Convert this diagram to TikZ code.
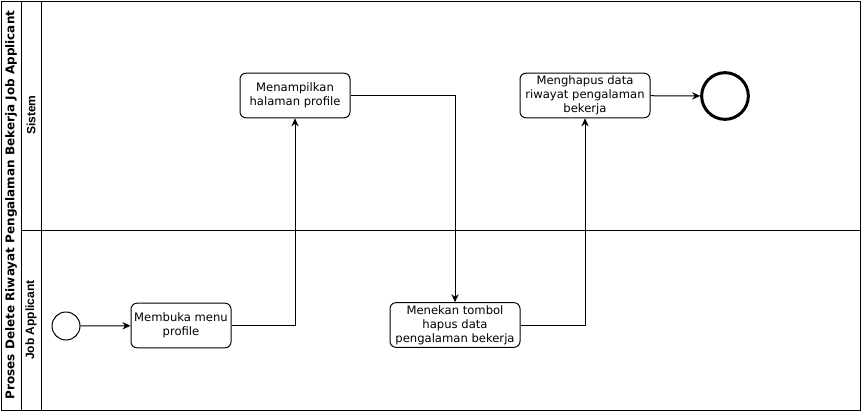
\documentclass[tikz,border=0pt]{standalone}
\usepackage{fontspec}
\setmainfont{DejaVu Sans}
\newfontfamily\lanefont{Liberation Sans}
\usetikzlibrary{arrows.meta}
\begin{document}
\begin{tikzpicture}[
 x=.75pt,y=-.75pt,
 line/.style={line width=.75pt},
 flow/.style={line width=.75pt,-{Stealth[length=6pt,width=5.5pt]}},
 task/.style={draw,line width=.75pt,rounded corners=4.5pt,align=center,
  minimum height=33.5pt,inner sep=1pt,font=\fontsize{8.7}{10.6}\selectfont},
 startev/.style={draw,circle,line width=.75pt,minimum size=21pt,inner sep=0pt},
 endev/.style={draw,circle,line width=2.25pt,minimum size=35pt,inner sep=0pt},
 lane/.style={rotate=90,font=\lanefont\bfseries\fontsize{9}{11}\selectfont}]
 \useasboundingbox (0,0) rectangle (861,411);
 % Pool and lanes.
 \draw[line] (1,1) rectangle (860,410);
 \draw[line] (21,1)--(21,410) (41,1)--(41,410) (21,230)--(860,230);
 \node[rotate=90,font=\bfseries\fontsize{9}{11}\selectfont] (pool) at (11,205){Proses Delete Riwayat Pengalaman Bekerja Job Applicant};
 \node[lane] (sistem) at (31,115){Sistem};
 \node[lane] (applicant) at (31,320){Job Applicant};
 % Job Applicant lane.
 \node[startev] (start) at (66,326){};
 \node[task,minimum width=75pt] (buka) at (181,325.5){Membuka menu\\profile};
 \node[task,minimum width=97.5pt] (tekan) at (455,325){Menekan tombol\\hapus data\\pengalaman bekerja};
 % Sistem lane.
 \node[task,minimum width=82.5pt] (tampil) at (295,95.5){Menampilkan\\halaman profile};
 \node[task,minimum width=97.5pt] (hapus) at (585,95.5){Menghapus data\\riwayat pengalaman\\bekerja};
 \node[endev] (end) at (725,96){};
 % Sequence flows.
 \draw[flow] (start)--(buka);
 \draw[flow] (buka.east)-|(tampil.south);
 \draw[flow] (tampil.east)-|(tekan.north);
 \draw[flow] (tekan.east)-|(hapus.south);
 \draw[flow] (hapus)--(end);
\end{tikzpicture}
\end{document}
